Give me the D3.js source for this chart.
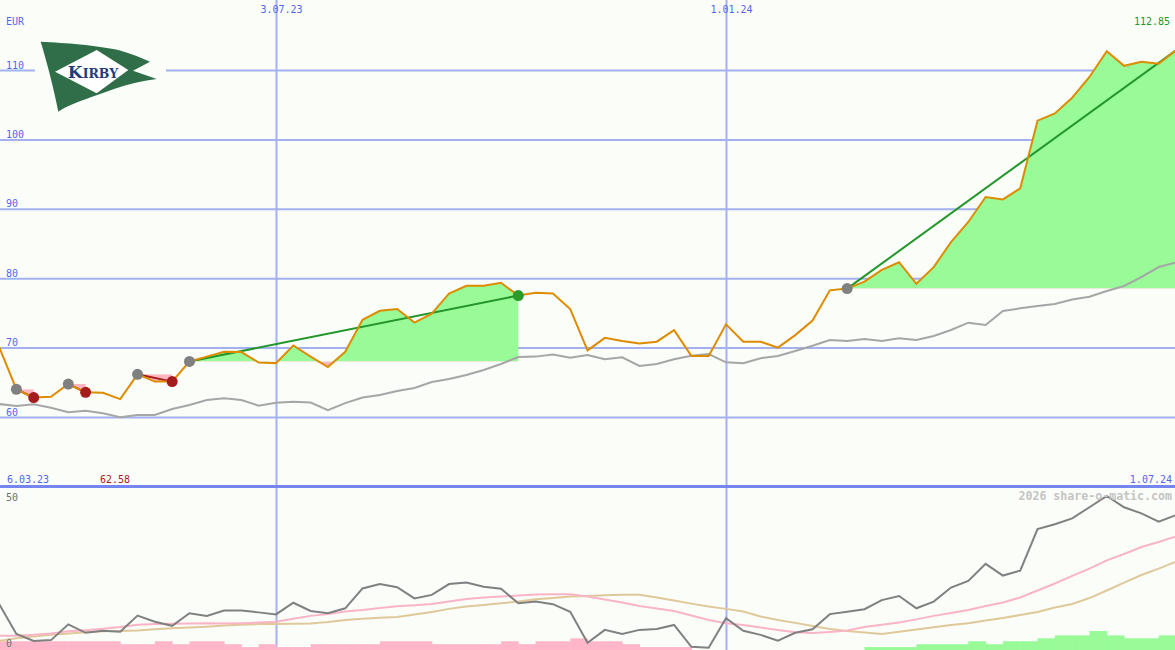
<!DOCTYPE html>
<html>
<head>
<meta charset="utf-8">
<script src="https://cdn.jsdelivr.net/npm/d3@7"></script>
<style>
body{margin:0;background:#fbfdf9;}
svg{display:block;}
text{font-family:"DejaVu Sans Mono",monospace;font-size:10px;}
</style>
</head>
<body>
<svg></svg>
<script>
// weekly closes (EUR)
const dates = [
  "2023-03-13","2023-03-20","2023-03-27","2023-04-03","2023-04-10","2023-04-17","2023-04-24",
  "2023-05-01","2023-05-08","2023-05-15","2023-05-22","2023-05-29","2023-06-05","2023-06-12",
  "2023-06-19","2023-06-26","2023-07-03","2023-07-10","2023-07-17","2023-07-24","2023-07-31",
  "2023-08-07","2023-08-14","2023-08-21","2023-08-28","2023-09-04","2023-09-11","2023-09-18",
  "2023-09-25","2023-10-02","2023-10-09","2023-10-16","2023-10-23","2023-10-30","2023-11-06",
  "2023-11-13","2023-11-20","2023-11-27","2023-12-04","2023-12-11","2023-12-18","2023-12-25",
  "2024-01-01","2024-01-08","2024-01-15","2024-01-22","2024-01-29","2024-02-05","2024-02-12",
  "2024-02-19","2024-02-26","2024-03-04","2024-03-11","2024-03-18","2024-03-25","2024-04-01",
  "2024-04-08","2024-04-15","2024-04-22","2024-04-29","2024-05-06","2024-05-13","2024-05-20",
  "2024-05-27","2024-06-03","2024-06-10","2024-06-17","2024-06-24","2024-07-01"
];
const price = [
  70.1, 64.0, 62.8, 62.9, 64.75, 63.56, 63.5, 62.58, 66.15, 65.1, 65.1, 68.0, 68.7, 69.4,
  69.36, 67.85, 67.75, 70.3, 68.7, 67.2, 69.4, 74.0, 75.3, 75.56, 73.6, 74.9, 77.8, 78.9,
  78.9, 79.35, 77.5, 77.9, 77.8, 75.56, 69.6, 71.4, 70.95, 70.6, 70.85, 72.5, 68.8, 68.8,
  73.35, 70.85, 70.85, 70.0, 71.8, 73.9, 78.25, 78.5, 79.5, 81.2, 82.3, 79.2, 81.6, 85.2,
  88.1, 91.7, 91.35, 92.95, 102.7, 103.75, 106.0, 109.0, 112.7, 110.6, 111.2, 110.9, 112.85
];
const average = [
  61.87, 61.59, 61.83, 61.34, 60.68, 60.91, 60.53, 59.96, 60.29, 60.29, 61.15, 61.73, 62.45, 62.69,
  62.45, 61.63, 62.06, 62.2, 62.09, 61.0, 62.0, 62.8, 63.17, 63.75, 64.18, 65.04, 65.48, 66.05,
  66.77, 67.64, 68.65, 68.7, 69.0, 68.54, 68.93, 68.31, 68.6, 67.35, 67.64, 68.31, 68.83, 69.08,
  67.88, 67.74, 68.46, 68.79, 69.51, 70.27, 71.1, 70.95, 71.24, 70.95, 71.34, 71.1, 71.67, 72.54,
  73.59, 73.26, 75.27, 75.66, 76.0, 76.28, 76.93, 77.33, 78.16, 78.88, 80.17, 81.61, 82.26
];
// lower panel
const oscLine = [
  15.1, 4.8, 2.4, 2.7, 8.1, 5.2, 5.9, 5.6, 11.1, 9.0, 7.6, 11.9, 11.0, 12.8,
  12.8, 12.2, 11.5, 15.5, 12.7, 11.9, 13.6, 20.4, 21.9, 20.8, 17.0, 18.2, 21.9, 22.4,
  21.0, 20.3, 15.3, 15.9, 15.0, 12.4, 1.8, 6.2, 4.8, 6.2, 6.5, 7.9, 0.4, 0.1,
  10.2, 5.9, 4.5, 2.5, 5.2, 6.4, 11.6, 12.4, 13.3, 16.4, 17.8, 13.6, 15.9, 20.7,
  23.0, 28.8, 24.8, 26.5, 40.7, 42.4, 44.4, 48.2, 52.1, 48.2, 46.1, 43.3, 45.5
];
const oscFast = [
  4.2, 4.2, 4.5, 5.0, 5.7, 6.1, 6.6, 7.2, 8.0, 8.2, 8.3, 8.4, 8.5, 8.4,
  8.5, 8.7, 9.0, 10.0, 11.0, 11.6, 12.5, 13.0, 13.7, 14.3, 14.6, 15.1, 15.9, 16.8,
  17.3, 17.6, 18.0, 18.3, 18.4, 18.4, 17.6, 16.6, 15.6, 14.4, 13.5, 12.7, 11.1, 9.6,
  8.5, 7.9, 7.0, 6.2, 5.4, 5.1, 5.5, 6.0, 7.2, 8.0, 8.7, 9.8, 11.0, 12.0,
  13.0, 14.4, 15.6, 17.3, 19.7, 22.1, 24.7, 27.2, 30.0, 32.2, 34.6, 36.3, 38.2
];
const oscSlow = [
  2.4, 3.3, 3.9, 4.5, 5.0, 5.4, 5.7, 5.8, 6.0, 6.4, 6.8, 7.0, 7.3, 7.7,
  8.0, 8.2, 8.2, 8.3, 8.4, 8.9, 9.6, 10.0, 10.4, 10.6, 11.5, 12.3, 13.4, 14.2,
  14.7, 15.3, 15.9, 16.7, 17.1, 17.6, 17.8, 18.1, 18.2, 18.2, 17.3, 16.3, 15.2, 14.2,
  13.4, 12.5, 10.8, 9.6, 8.6, 7.5, 6.5, 5.8, 5.3, 4.8, 5.6, 6.3, 7.1, 7.9,
  8.5, 9.4, 10.3, 11.3, 12.3, 13.9, 15.1, 17.1, 19.7, 22.4, 25.0, 27.2, 29.6
];
const oscBars = [
  -3, -3, -3, -3, -3, -3, -3, -2, -2, -3, -2, -3, -3, -2,
  -1, -2, -1, -1, -2, -2, -2, -2, -3, -3, -3, -2, -2, -2,
  -2, -3, -2, -3, -3, -4, -3, -3, -2, -1, -1, -1, 0, 0,
  0, 0, 0, 0, 0, 0, 0, 0, 1, 1, 1, 2, 2, 2,
  3, 2, 3, 3, 4, 5, 5, 6.5, 5, 4, 4, 5, 5
];
// signals (index into dates)
const tradeEntry = [1, 4, 8, 11, 49];
const tradeExit = [2, 5, 10, 30, 68];
const tradeWin = [false, false, false, true, true];
const tradeOpen = [false, false, false, false, true];

const xTicks = ["2023-07-03", "2024-01-01"];
const yTicks = [60, 70, 80, 90, 100, 110];
const oscTicks = [0, 50];
const firstLabel = "6.03.23", lastLabel = "1.07.24";
const lowValue = "62.58", lastValue = "112.85";

const W = 1175, H = 650;
const parse = d3.utcParse("%Y-%m-%d");
const fmt = d3.utcFormat("%-d.%m.%y");
const days = dates.map(parse);

const svg = d3.select('svg').attr('width', W).attr('height', H);
svg.append('rect').attr('width', W).attr('height', H).attr('fill', '#fbfdf9');

const x = d3.scaleUtc().domain(xTicks.map(parse)).range([276, 726]);
const y = d3.scaleLinear().domain([60, 110]).range([417, 70]);
const oy = d3.scaleLinear().domain([0, 50]).range([648, 502]);

const defs = svg.append('defs');
defs.append('clipPath').attr('id', 'upperClip').append('rect').attr('width', W).attr('height', 485);
defs.append('clipPath').attr('id', 'lowerClip').append('rect').attr('y', 489).attr('width', W).attr('height', H - 489);

// grid
svg.append('g')
  .call(d3.axisBottom(x).tickValues(xTicks.map(parse)).tickSize(H).tickFormat(fmt))
  .call(g => g.select('.domain').remove())
  .call(g => g.selectAll('line').attr('stroke', '#a3b1f0').attr('stroke-width', 2))
  .call(g => g.selectAll('text').attr('y', 13).attr('dy', 0).attr('dx', 5)
    .attr('fill', '#5466f0').style('font-size', '10px'));

svg.append('g')
  .call(d3.axisRight(y).tickValues(yTicks).tickSize(W).tickFormat(d3.format('d')))
  .call(g => g.select('.domain').remove())
  .call(g => g.selectAll('line').attr('stroke', '#a3b1f0').attr('stroke-width', 2))
  .call(g => g.selectAll('text').attr('x', 6).attr('dy', -2).attr('text-anchor', 'start')
    .attr('fill', '#5466f0').style('font-size', '10px'));

svg.append('line').attr('x1', 0).attr('x2', W).attr('y1', 486.5).attr('y2', 486.5)
  .attr('stroke', '#7686f0').attr('stroke-width', 3);

// logo
const logo = svg.append('g');
logo.append('rect').attr('x', 35).attr('y', 36).attr('width', 131).attr('height', 80).attr('fill', '#fbfdf9');
logo.append('path')
  .attr('d', 'M40.7,41.7 C55,42.5 66,43 80,44.5 C95,46 110,48 120,50.5 C132,54 142,58 150,61.7 L133,70.7 L156.7,79 C145,80.5 135,82.5 125,85.5 C112,89.5 100,94 90,97.5 C78,102 66,106 58.3,111.7 C54,90 48,66 40.7,41.7 Z')
  .attr('fill', '#2f6e48');
logo.append('path').attr('d', 'M55,71.7 L96.7,50 L128.3,70 L96.7,93.3 Z').attr('fill', '#fff');
const kt = logo.append('text').attr('x', 93).attr('y', 78).attr('text-anchor', 'middle')
  .attr('fill', '#1f3d78').style('font-family', '"DejaVu Serif",serif').style('font-weight', 'bold');
kt.append('tspan').style('font-size', '17px').text('K');
kt.append('tspan').style('font-size', '12.5px').text('IRBY');

// upper panel
const upper = svg.append('g').attr('clip-path', 'url(#upperClip)');
tradeEntry.forEach((e, k) => {
  const idx = d3.range(e, tradeExit[k] + 1);
  const base = y(price[e]);
  const area = d3.area().x(i => x(days[i])).y0(base).y1(i => y(price[i]));
  ['up', 'dn'].forEach(s => {
    defs.append('clipPath').attr('id', 'c' + s + k).append('rect')
      .attr('x', 0).attr('width', W)
      .attr('y', s === 'up' ? 0 : base).attr('height', s === 'up' ? base : H - base);
    upper.append('path').datum(idx).attr('d', area)
      .attr('fill', s === 'up' ? '#98fb98' : '#ffb6c1')
      .attr('clip-path', 'url(#c' + s + k + ')');
  });
});

const line = v => d3.line().x((d, i) => x(days[i])).y((d) => v(d));
upper.append('path').datum(average).attr('d', line(y)).attr('fill', 'none')
  .attr('stroke', '#a6a6a6').attr('stroke-width', 2);

tradeEntry.forEach((e, k) => {
  const t = tradeExit[k];
  upper.append('line')
    .attr('x1', x(days[e])).attr('y1', y(price[e]))
    .attr('x2', x(days[t])).attr('y2', y(price[t]))
    .attr('stroke', tradeWin[k] ? '#22962a' : '#a51c1c').attr('stroke-width', 2);
});
upper.append('path').datum(price).attr('d', line(y)).attr('fill', 'none')
  .attr('stroke', '#dd8c00').attr('stroke-width', 2);

tradeEntry.forEach((e, k) => {
  upper.append('circle').attr('cx', x(days[e])).attr('cy', y(price[e])).attr('r', 5.5).attr('fill', '#808080');
  if (!tradeOpen[k]) {
    const t = tradeExit[k];
    upper.append('circle').attr('cx', x(days[t])).attr('cy', y(price[t])).attr('r', 5.5)
      .attr('fill', tradeWin[k] ? '#2a9a2a' : '#a51c1c');
  }
});

// labels
svg.append('text').attr('x', 6).attr('y', 25).attr('fill', '#5466f0').text('EUR');
svg.append('text').attr('x', 1170).attr('y', 25).attr('text-anchor', 'end').attr('fill', '#22962a').text(lastValue);
svg.append('text').attr('x', 7).attr('y', 483).attr('fill', '#5466f0').text(firstLabel);
svg.append('text').attr('x', 100).attr('y', 483).attr('fill', '#a51c1c').text(lowValue);
svg.append('text').attr('x', 1172).attr('y', 483).attr('text-anchor', 'end').attr('fill', '#5466f0').text(lastLabel);

// lower panel
const lower = svg.append('g').attr('clip-path', 'url(#lowerClip)');
lower.selectAll('rect').data(oscBars).join('rect')
  .attr('x', (d, i) => x(days[i]))
  .attr('width', (d, i) => x(d3.utcWeek.offset(days[i], 1)) - x(days[i]) + 0.5)
  .attr('y', d => H - (oy(0) - oy(Math.abs(d))))
  .attr('height', d => oy(0) - oy(Math.abs(d)))
  .attr('fill', d => d < 0 ? '#ffb6c8' : '#98fb98');
lower.append('path').datum(oscSlow).attr('d', line(oy)).attr('fill', 'none')
  .attr('stroke', '#dfc99a').attr('stroke-width', 2);
lower.append('path').datum(oscFast).attr('d', line(oy)).attr('fill', 'none')
  .attr('stroke', '#f9b4c6').attr('stroke-width', 2);
lower.append('path').datum(oscLine).attr('d', line(oy)).attr('fill', 'none')
  .attr('stroke', '#808080').attr('stroke-width', 2);

svg.append('g')
  .call(d3.axisRight(oy).tickValues(oscTicks).tickSize(0))
  .call(g => g.select('.domain').remove())
  .call(g => g.selectAll('text').attr('x', 6).attr('dy', -2).attr('text-anchor', 'start')
    .attr('fill', '#707070').style('font-size', '10px'));

svg.append('text').attr('x', 1172).attr('y', 500).attr('text-anchor', 'end')
  .attr('fill', '#c4c4c4').style('font-size', '11.6px').style('font-weight', 'bold')
  .text('2026 share-o-matic.com');
</script>
</body>
</html>
